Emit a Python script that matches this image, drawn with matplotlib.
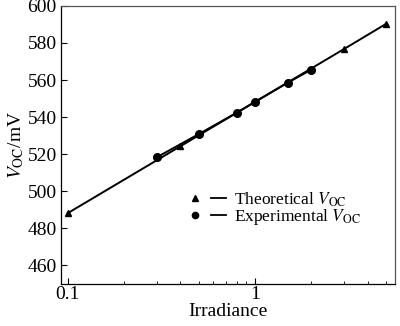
import matplotlib
matplotlib.use("Agg")
import matplotlib.pyplot as plt
from matplotlib.lines import Line2D
from matplotlib.legend_handler import HandlerTuple

plt.rcParams['font.family'] = ['Liberation Serif', 'DejaVu Serif']
plt.rcParams['mathtext.fontset'] = 'stix'

# theoretical Voc (triangles)
theo_x = [0.1, 0.4, 3, 5]
theo_y = [488.2, 524.3, 576.8, 590.2]

# experimental Voc (circles)
exp_x = [0.3, 0.5, 0.8, 1, 1.5, 2]
exp_y = [518.4, 530.8, 542.4, 548.2, 558.6, 565.6]

fig = plt.figure(figsize=(4.0, 3.26), dpi=100)
ax = fig.add_axes([0.1525, 0.129, 0.835, 0.853])

ax.plot(theo_x, theo_y, color='black', lw=1.4, marker='^', ms=5)
ax.plot(exp_x, exp_y, color='black', lw=1.4, marker='o', ms=5.5)

ax.set_xscale('log')
ax.set_xlim(0.092, 5.6)
ax.set_ylim(450, 600)
ax.set_yticks(range(460, 601, 20))
ax.set_xticks([0.1, 1])
ax.set_xticklabels(['0.1', '1'])

ax.tick_params(direction='in', labelsize=14, top=False, right=False, pad=3)
ax.tick_params(axis='x', pad=1.5)
ax.tick_params(which='major', length=4)
ax.tick_params(which='minor', direction='in', length=2.5, top=False)
for s in ax.spines.values():
    s.set_linewidth(0.9)
for s in ['top', 'right']:
    ax.spines[s].set_color('#555555')

ax.set_xlabel('Irradiance', fontsize=14, labelpad=0)
ax.set_ylabel(r'$V_{\rm OC}$/mV', fontsize=14, labelpad=1)

h1 = (Line2D([], [], color='black', marker='^', ms=4, ls='none'),
      Line2D([], [], color='black', lw=1.3))
h2 = (Line2D([], [], color='black', marker='o', ms=4.5, ls='none'),
      Line2D([], [], color='black', lw=1.3))
ax.legend([h1, h2], [r'Theoretical $V_{\rm OC}$', r'Experimental $V_{\rm OC}$'],
          handler_map={tuple: HandlerTuple(ndivide=None, pad=0.5)},
          loc='center left', bbox_to_anchor=(0.358, 0.27), frameon=False,
          fontsize=12.5, handlelength=2.2, handletextpad=0.5,
          labelspacing=-0.1, borderaxespad=0)

fig.savefig('out.png', dpi=100)
